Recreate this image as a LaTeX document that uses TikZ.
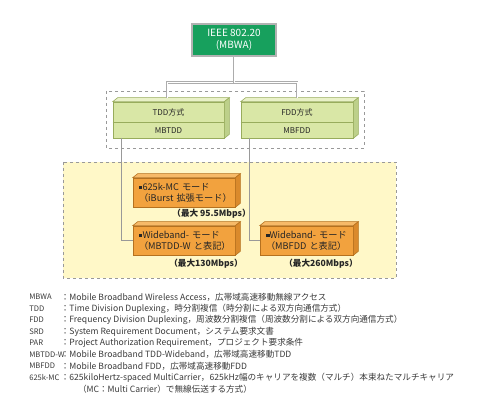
\documentclass[tikz,border=0pt]{standalone}
\usepackage{fontspec}
\setmainfont{Noto Sans CJK JP}
\usepackage{xcolor}
\usetikzlibrary{positioning}
\definecolor{mbwagreen}{HTML}{17A05D}
\definecolor{leaf}{HTML}{D9E7A6}
\definecolor{leaftop}{HTML}{E9F1C8}
\definecolor{leafside}{HTML}{BDD08A}
\definecolor{leafedge}{HTML}{98AC5C}
\definecolor{modeorange}{HTML}{F2A23E}
\definecolor{modetop}{HTML}{F7BA68}
\definecolor{modeside}{HTML}{DA8A2C}
\definecolor{modeedge}{HTML}{B5711F}
\definecolor{areayellow}{HTML}{FFF8C8}
\definecolor{legendgray}{HTML}{3A3A3A}
\newcommand{\modemark}{\raisebox{1pt}{\rule{3.5pt}{3.5pt}}}

\begin{document}
\begin{tikzpicture}[
			x=1pt, y=-1pt, line width=0.6pt,
			mbwabox/.style={draw=gray!60, line width=1.2pt, fill=mbwagreen, text=white,
					align=center, inner sep=0pt, font=\fontsize{10}{11.5}\selectfont},
			leafbox/.style={draw=leafedge, fill=leaf, inner sep=0pt},
			leaftext/.style={inner sep=0pt, text=black!85, font=\fontsize{8}{10}\selectfont},
			modebox/.style={draw=modeedge, fill=modeorange, inner xsep=6pt, inner ysep=0pt,
					align=left, text=black!85, font=\fontsize{9.2}{11}\selectfont},
			ratetext/.style={inner sep=0pt, text=black!85, font=\fontsize{8.6}{10}\selectfont\bfseries},
			legendtext/.style={inner sep=0pt, text=legendgray, font=\fontsize{8.6}{10}\selectfont},
			abbrtext/.style={inner sep=0pt, text=legendgray, font=\fontsize{7.6}{10}\selectfont},
			link/.style={draw=gray!65, line width=0.9pt, double=white, double distance=1pt}, % line from the top box
			thin link/.style={draw=gray!80, line width=0.5pt},
		]
		\useasboundingbox[fill=white] (0,0) rectangle (480,409);

		% --- yellow area and the dashed group round the two duplex schemes
		\draw[gray!80, dashed, fill=areayellow] (63,162) rectangle (396,278);
		\draw[gray!80, dashed, fill=white] (106,91) rectangle (364,148);

		% --- the standard and its two schemes
		\node[mbwabox, minimum width=84, minimum height=32] (mbwa) at (234,40) {IEEE 802.20\\(MBWA)};
		\node[leafbox, minimum width=111, minimum height=36] (tdd) at (168.5,120) {};
		\node[leafbox, minimum width=112, minimum height=36] (fdd) at (297,120) {};

		% --- the three modes
		\node[modebox, text width=90, minimum height=29] (mc) at (184,192.5)
		{\mbox{\modemark 625k-MC モード}\\\mbox{（iBurst 拡張モード）}};
		\node[modebox, text width=90, minimum height=29] (wtdd) at (184,240.5)
		{\mbox{\modemark Wideband- モード}\\\mbox{（MBTDD-W と表記）}};
		\node[modebox, text width=81, minimum height=29] (wfdd) at (306.5,240.5)
		{\mbox{\modemark Wideband- モード}\\\mbox{（MBFDD と表記）}};

		% --- top and right faces of the boxes
		\foreach \n in {tdd,fdd}{
				\filldraw[draw=leafedge, fill=leaftop] (\n.north west) -- (\n.north east)
				-- ++(5,-4) -- ([shift={(5,-4)}]\n.north west) -- cycle;
				\filldraw[draw=leafedge, fill=leafside] (\n.north east) -- ++(5,-4)
				-- ([shift={(5,-4)}]\n.south east) -- (\n.south east) -- cycle;
				\draw[leafedge] ([yshift=-2pt]\n.west) -- ([yshift=-2pt]\n.east); % row line
			}
		\foreach \n in {mc,wtdd,wfdd}{
				\filldraw[draw=modeedge, fill=modetop] (\n.north west) -- (\n.north east)
				-- ++(5,-4) -- ([shift={(5,-4)}]\n.north west) -- cycle;
				\filldraw[draw=modeedge, fill=modeside] (\n.north east) -- ++(5,-4)
				-- ([shift={(5,-4)}]\n.south east) -- (\n.south east) -- cycle;
			}

		% --- texts of the two schemes
		\node[leaftext] (tddname) at (168.5,112) {TDD方式};
		\node[leaftext] (tddcode) at (168.5,130.5) {MBTDD};
		\node[leaftext] (fddname) at (297,112) {FDD方式};
		\node[leaftext] (fddcode) at (297,130.5) {MBFDD};

		% --- peak rates
		\node[ratetext, anchor=east] (mcrate) at (251,214) {（最大 95.5Mbps）};
		\node[ratetext, anchor=east] (wtddrate) at (243,264) {（最大130Mbps）};
		\node[ratetext, anchor=east] (wfddrate) at (358,264) {（最大260Mbps）};

		% --- connectors
		\draw[link] (mbwa.south) -- ++(0,26) -| ([shift={(-1.5,-4)}]tdd.north);
		\draw[link] (mbwa.south) -- ++(0,26) -| ([shift={(0,-4)}]fdd.north);
		\draw[thin link] ([xshift=-47.5pt]tdd.south) |- (wtdd.west);
		\draw[thin link] ([xshift=-48pt]fdd.south) |- (wfdd.west);

		% --- abbreviations
		\foreach \ab/\txt [count=\k] in {
				MBWA/：Mobile Broadband Wireless Access，広帯域高速移動無線アクセス,
				TDD/：Time Division Duplexing，時分割複信（時分割による双方向通信方式）,
				FDD/：Frequency Division Duplexing，周波数分割複信（周波数分割による双方向通信方式）,
				SRD/：System Requirement Document，システム要求文書,
				PAR/：Project Authorization Requirement，プロジェクト要求条件,
				MBTDD-W/：Mobile Broadband TDD-Wideband，広帯域高速移動TDD,
				MBFDD/：Mobile Broadband FDD，広帯域高速移動FDD,
				625k-MC/：625kiloHertz-spaced MultiCarrier，625kHz幅のキャリアを複数（マルチ）本束ねたマルチキャリア,
				{}/　　（MC：Multi Carrier）で無線伝送する方式）}{
				\node[abbrtext, anchor=west] (ab\k) at (29,285.5+11.5*\k) {\ab};
				\node[legendtext, anchor=west] (def\k) at (60.5,285.5+11.5*\k) {\txt};
			}
	\end{tikzpicture}
\end{document}
